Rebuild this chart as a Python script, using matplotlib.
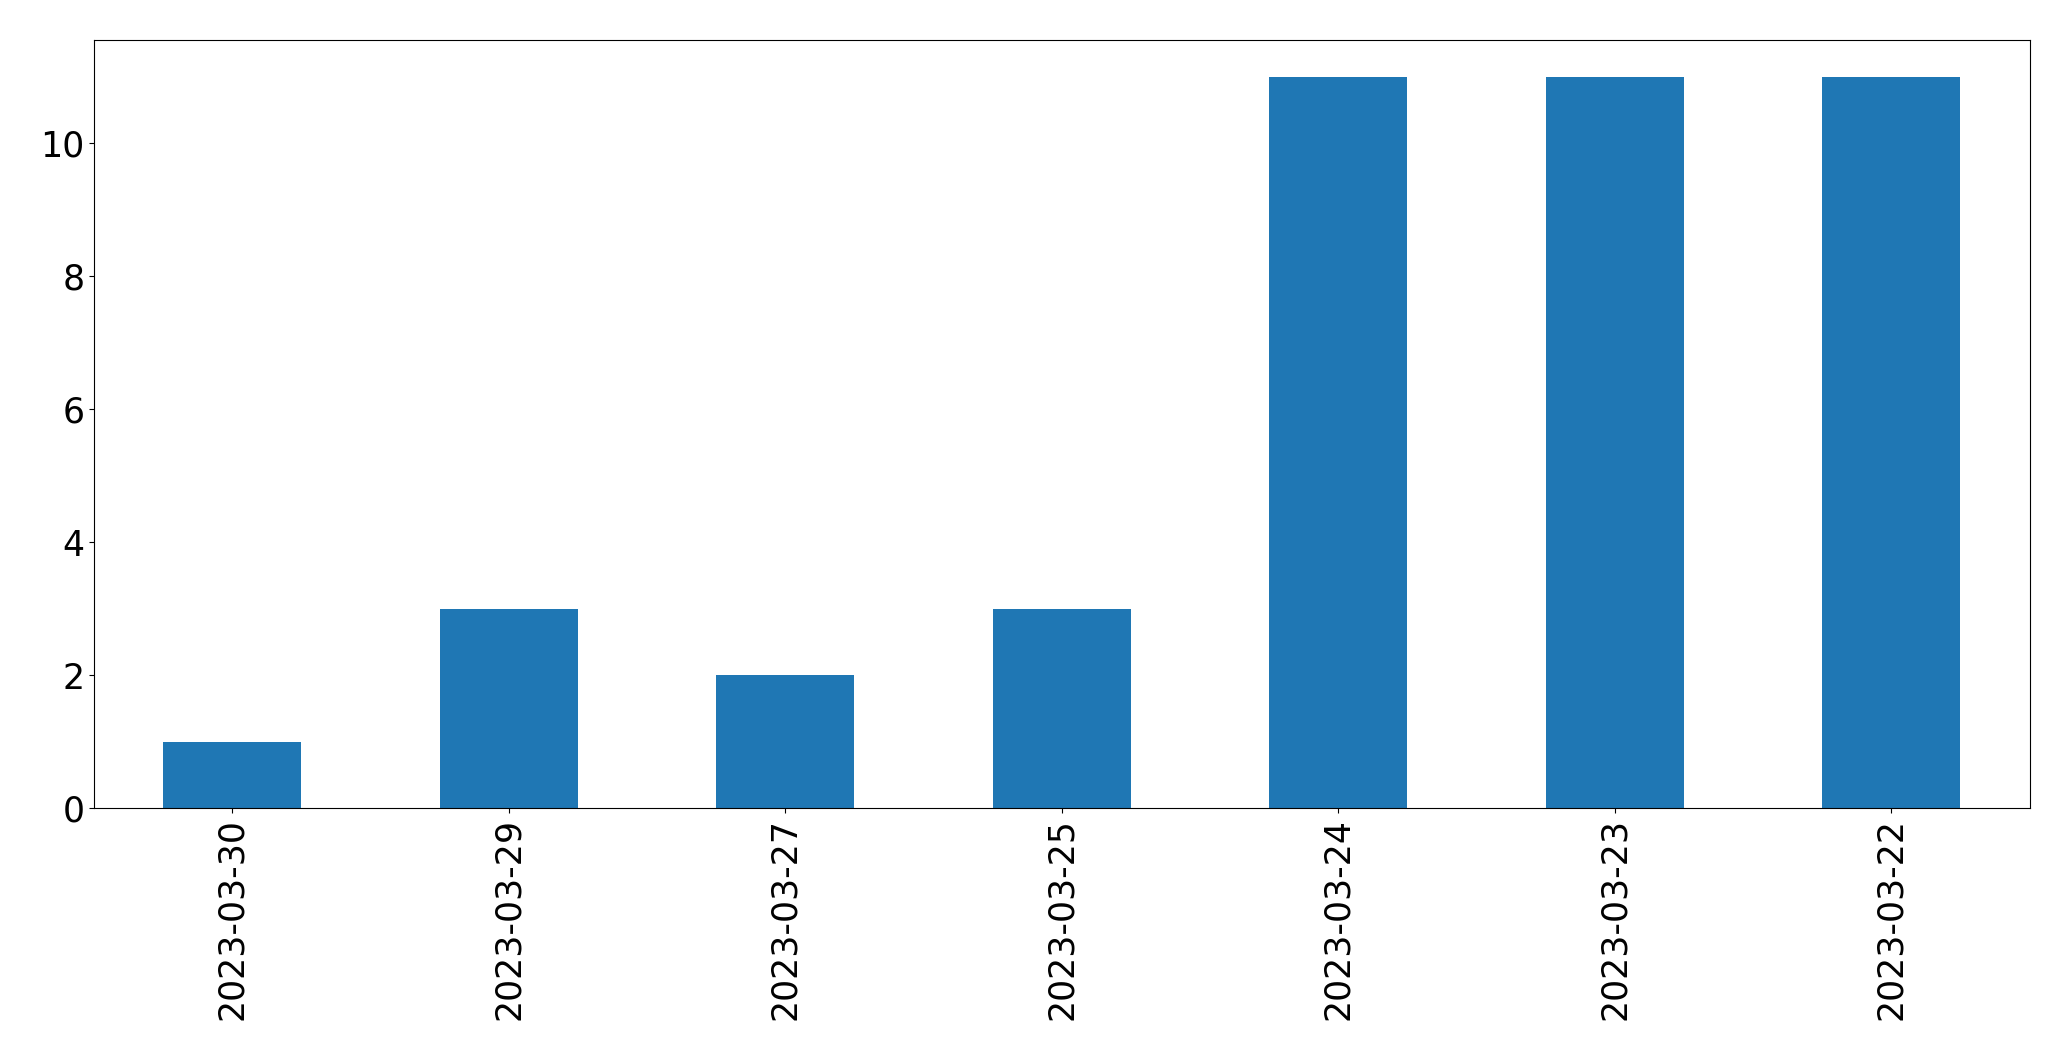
import matplotlib
matplotlib.use("Agg")
import matplotlib.pyplot as plt

dates = ["2023-03-30", "2023-03-29", "2023-03-27", "2023-03-25",
         "2023-03-24", "2023-03-23", "2023-03-22"]
counts = [1, 3, 2, 3, 11, 11, 11]

fig = plt.figure(figsize=(20.71, 10.61), dpi=100)
ax = fig.add_axes([0.0454, 0.238, 0.9346, 0.724])

ax.bar(range(len(dates)), counts, width=0.5, color="#1f77b4")
ax.set_xlim(-0.5, len(dates) - 0.5)
ax.set_xticks(range(len(dates)))
ax.set_xticklabels(dates, rotation=90)
ax.tick_params(axis="both", labelsize=25)

fig.savefig("out.png", dpi=100)
